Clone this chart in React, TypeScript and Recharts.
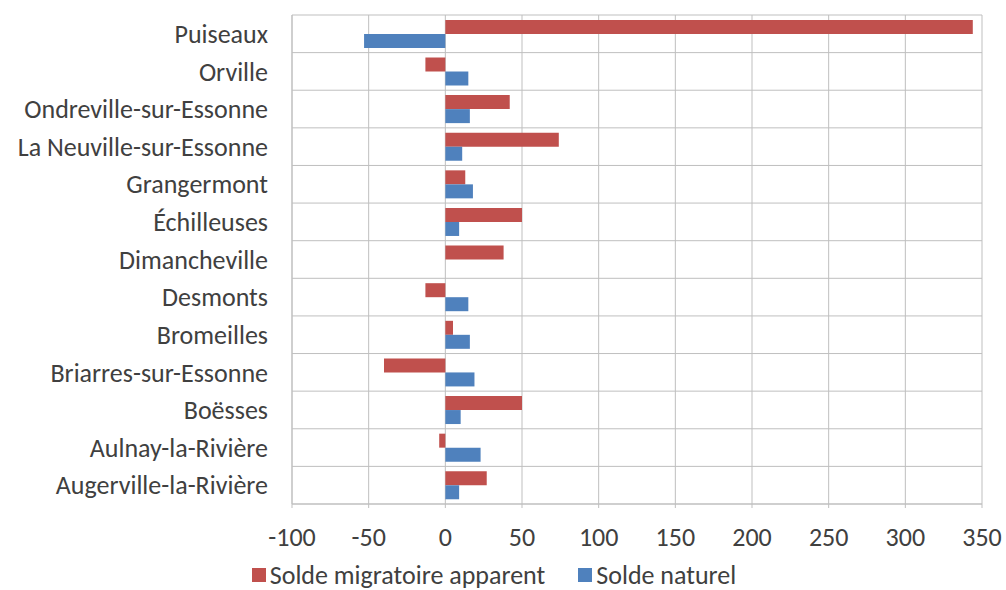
import React from "react";
import { BarChart, Bar, XAxis, YAxis, CartesianGrid, Legend } from "recharts";

const communes = [
  "Puiseaux",
  "Orville",
  "Ondreville-sur-Essonne",
  "La Neuville-sur-Essonne",
  "Grangermont",
  "Échilleuses",
  "Dimancheville",
  "Desmonts",
  "Bromeilles",
  "Briarres-sur-Essonne",
  "Boësses",
  "Aulnay-la-Rivière",
  "Augerville-la-Rivière",
];
const soldeMigratoire = [344, -13, 42, 74, 13, 50, 38, -13, 5, -40, 50, -4, 27];
const soldeNaturel = [-53, 15, 16, 11, 18, 9, 0, 15, 16, 19, 10, 23, 9];
const xTicks = [-100, -50, 0, 50, 100, 150, 200, 250, 300, 350];
const seriesNames = ["Solde migratoire apparent", "Solde naturel"];

const RED = "#C0504D";
const BLUE = "#4F81BD";
const GRID = "#BFBFBF";
const TEXT = "#404040";
const FONT = "Carlito, Calibri, Lato, sans-serif";

const data = communes.map((name, i) => ({
  name,
  migratoire: soldeMigratoire[i],
  naturel: soldeNaturel[i],
}));

function LegendContent() {
  const colors = [RED, BLUE];
  return (
    <div
      style={{
        height: 30,
        lineHeight: "30px",
        display: "flex",
        justifyContent: "center",
        alignItems: "center",
        fontFamily: FONT,
        fontSize: 26,
        color: TEXT,
        paddingLeft: 6,
      }}
    >
      {seriesNames.map((n, i) => (
        <div key={n} style={{ display: "flex", alignItems: "center", marginRight: i === 0 ? 33 : 0 }}>
          <span style={{ display: "inline-block", width: 14, height: 14, background: colors[i], marginRight: 4 }} />
          <span>{n}</span>
        </div>
      ))}
    </div>
  );
}

export default function App() {
  return (
    <div style={{ position: "absolute", left: 0, top: 0, width: 1006, height: 590, background: "#fff" }}>
      <BarChart
        width={1006}
        height={590}
        data={data}
        layout="vertical"
        margin={{ top: 15, right: 24, left: 0, bottom: 0 }}
        barCategoryGap="13%"
        barGap={0}
      >
        <CartesianGrid
          stroke={GRID}
          strokeWidth={1}
          horizontalCoordinatesGenerator={({ offset }: any) =>
            communes
              .map((_, i) => offset.top + (i * offset.height) / communes.length)
              .concat([offset.top + offset.height])
          }
        />
        <XAxis
          type="number"
          domain={[-100, 350]}
          ticks={xTicks}
          interval={0}
          axisLine={{ stroke: GRID }}
          tickLine={{ stroke: GRID }}
          tickSize={4}
          tickMargin={20}
          height={56}
          tick={{ fill: TEXT, fontSize: 26, fontFamily: FONT }}
        />
        <YAxis
          type="category"
          dataKey="name"
          width={292}
          interval={0}
          axisLine={{ stroke: GRID }}
          tickLine={false}
          tickSize={0}
          tickMargin={24}
          tick={{ fill: TEXT, fontSize: 26, fontFamily: FONT }}
        />
        <Legend verticalAlign="bottom" align="center" height={30} content={() => <LegendContent />} />
        <Bar dataKey="migratoire" name={seriesNames[0]} fill={RED} isAnimationActive={false} />
        <Bar dataKey="naturel" name={seriesNames[1]} fill={BLUE} isAnimationActive={false} />
      </BarChart>
    </div>
  );
}
